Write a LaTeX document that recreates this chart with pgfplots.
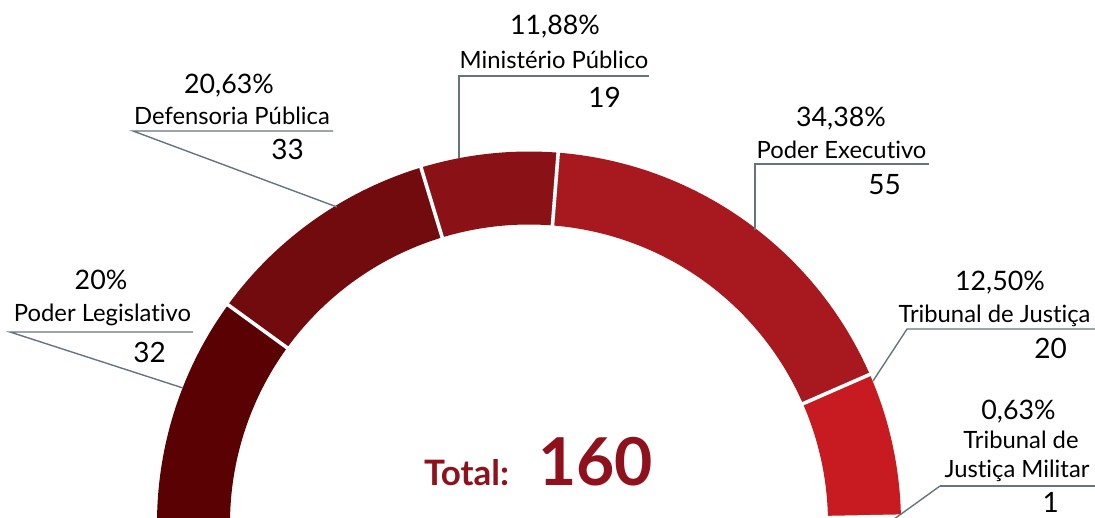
\documentclass[border=0pt]{standalone}
\usepackage{pgfplots}
\pgfplotsset{compat=1.18}
\usepackage{fontspec}
\setmainfont{Lato}[Ligatures={NoCommon}]
\definecolor{cLeg}{HTML}{5A0203}
\definecolor{cDef}{HTML}{720B0D}
\definecolor{cMin}{HTML}{8A1116}
\definecolor{cExe}{HTML}{A7191F}
\definecolor{cTJ}{HTML}{C81A21}
\definecolor{cTJM}{HTML}{E23C41}
\definecolor{cTot}{HTML}{8E111B}
\definecolor{cText}{HTML}{231F20}
\definecolor{cLine}{HTML}{66757D}
\newcommand\fpct{\fontsize{13.4bp}{15bp}\selectfont}
\newcommand\fname{\fontsize{11.9bp}{14bp}\selectfont}
\newcommand\fnum{\fontsize{14bp}{16bp}\selectfont}
% segment: colour, cumulative count before, count (total 160, half circle)
\newcommand\seg[3]{%
  \fill[#1] ({180-(#2/160)*180}:186bp)
    arc[start angle={180-(#2/160)*180}, end angle={180-((#2+#3)/160)*180}, radius=186bp]
    -- ({180-((#2+#3)/160)*180}:149.5bp)
    arc[start angle={180-((#2+#3)/160)*180}, end angle={180-(#2/160)*180}, radius=149.5bp]
    -- cycle;}
\newcommand\sep[1]{%
  \draw[white, line width=1.8bp] ({180-(#1/160)*180}:147bp) -- ({180-(#1/160)*180}:188bp);}
\begin{document}
\begin{tikzpicture}
\begin{axis}[
  scale only axis, width=547.5bp, height=259bp,
  xmin=0, xmax=1095, ymin=0, ymax=518, y dir=reverse,
  hide axis, clip=false,
  every node/.style={inner sep=0pt, text=cText},
]
\coordinate (SW) at (axis cs:0,518);
\coordinate (NE) at (axis cs:1095,0);
\begin{scope}
  \clip (axis cs:0,0) rectangle (axis cs:1095,518);
  \begin{scope}[shift={(axis cs:529,523.5)}]
    \seg{cLeg}{0}{32}
    \seg{cDef}{32}{33}
    \seg{cMin}{65}{19}
    \seg{cExe}{84}{55}
    \seg{cTJ}{139}{20}
    \seg{cTJM}{159}{1}
    \sep{32}\sep{65}\sep{84}\sep{139}\sep{159}
  \end{scope}
  \draw[cLine, line width=0.7bp] (axis cs:940,486) -- (axis cs:890,522);
\end{scope}
% leader lines
\draw[cLine, line width=0.7bp] (axis cs:193,332) -- (axis cs:10,332) -- (axis cs:183,388);
\draw[cLine, line width=0.7bp] (axis cs:333,131) -- (axis cs:133,131) -- (axis cs:337,207);
\draw[cLine, line width=0.7bp] (axis cs:649,76) -- (axis cs:459,76) -- (axis cs:459,158);
\draw[cLine, line width=0.7bp] (axis cs:929,164) -- (axis cs:755,164) -- (axis cs:755,230);
\draw[cLine, line width=0.7bp] (axis cs:1095,329) -- (axis cs:907,329) -- (axis cs:873,381);
\draw[cLine, line width=0.7bp] (axis cs:1095,486) -- (axis cs:940,486);
% labels
\node[anchor=base, font=\fpct] at (axis cs:101,289) {20\%};
\node[anchor=base, font=\fname] at (axis cs:102.5,321) {Poder Legislativo};
\node[anchor=base east, font=\fnum] at (axis cs:173,362) {32};

\node[anchor=base, font=\fpct] at (axis cs:229,93) {20,63\%};
\node[anchor=base, font=\fname] at (axis cs:232,124) {Defensoria Pública};
\node[anchor=base east, font=\fnum] at (axis cs:311,159) {33};

\node[anchor=base, font=\fpct] at (axis cs:555,35) {11,88\%};
\node[anchor=base, font=\fname] at (axis cs:554,68) {Ministério Público};
\node[anchor=base east, font=\fnum] at (axis cs:628,107) {19};

\node[anchor=base, font=\fpct] at (axis cs:841,126) {34,38\%};
\node[anchor=base, font=\fname] at (axis cs:841.5,158) {Poder Executivo};
\node[anchor=base east, font=\fnum] at (axis cs:908,194) {55};

\node[anchor=base, font=\fpct] at (axis cs:1000,290) {12,50\%};
\node[anchor=base, font=\fname] at (axis cs:994.5,322) {Tribunal de Justiça};
\node[anchor=base east, font=\fnum] at (axis cs:1074,358) {20};

\node[anchor=base, font=\fpct] at (axis cs:1018.5,419) {0,63\%};
\node[anchor=base, font=\fname] at (axis cs:1021,448) {Tribunal de};
\node[anchor=base, font=\fname] at (axis cs:1017,477) {Justiça Militar};
\node[anchor=base east, font=\fnum] at (axis cs:1066,512) {1};

\node[anchor=base west, font={\fontsize{17.5bp}{20bp}\selectfont\bfseries}, text=cTot] at (axis cs:417,485) {Total:};
\node[anchor=base west, font={\fontsize{33bp}{36bp}\selectfont\bfseries}, text=cTot] at (axis cs:531,485) {160};
\end{axis}
\pgfresetboundingbox
\path[use as bounding box] (SW) rectangle (NE);
\end{tikzpicture}
\end{document}
